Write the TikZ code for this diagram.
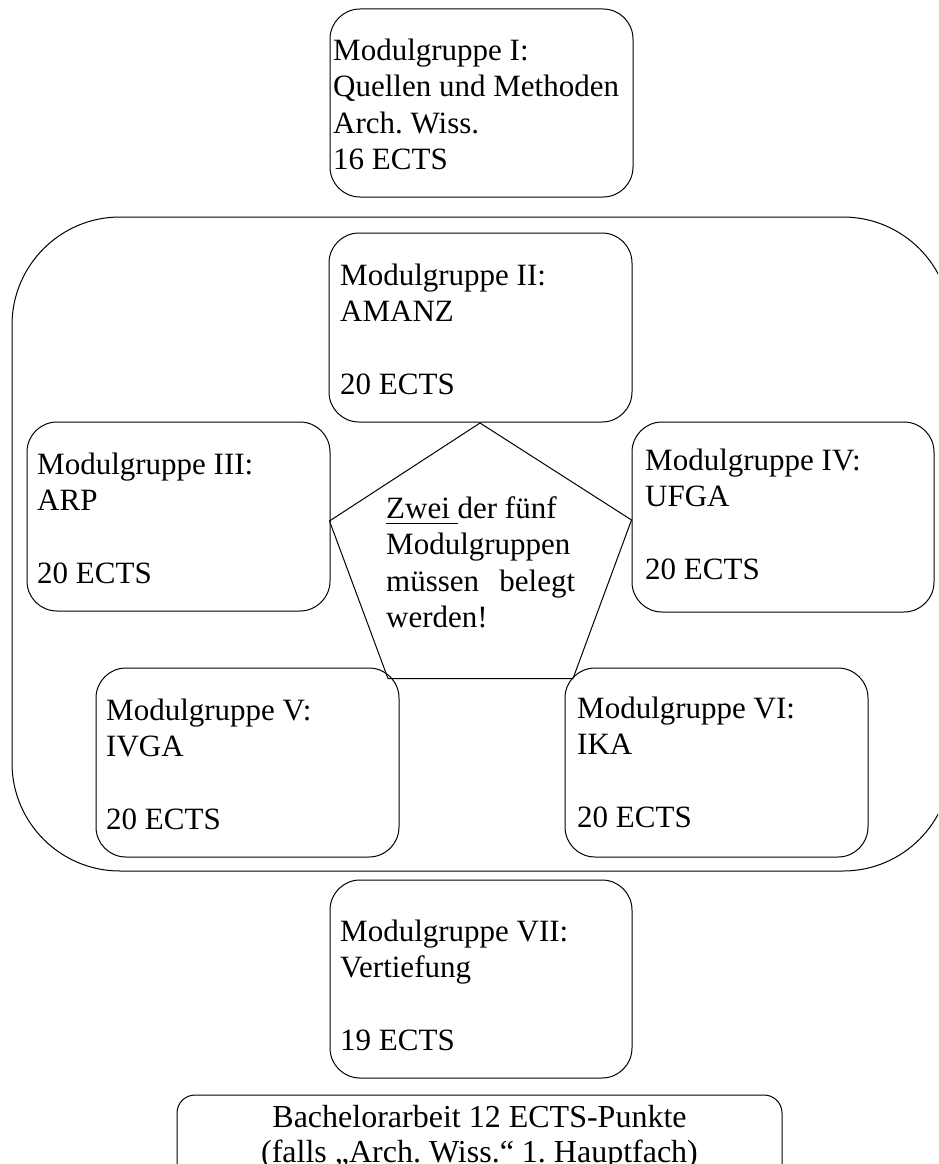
\documentclass[tikz,border=0pt]{standalone}
\usepackage{fontspec}
\setmainfont{Liberation Serif}
\frenchspacing
\newlength\ulwid
\newcommand\myul[1]{\leavevmode\settowidth{\ulwid}{#1}\rlap{\rule[-6pt]{\ulwid}{1.3pt}}#1}
\newcommand\mlines[1]{\begin{tabular}[t]{@{}l@{}}#1\end{tabular}}
\newcommand\clines[1]{\begin{tabular}[t]{@{}c@{}}#1\end{tabular}}
\tikzset{
  mbox/.style={draw, line width=1pt, rounded corners=30pt, inner sep=0pt},
  mtext/.style={anchor=base west, inner sep=0pt, font=\fontsize{31}{36.5}\selectfont},
  ctext/.style={anchor=base, inner sep=0pt, font=\fontsize{32}{35}\selectfont},
}
\begin{document}
\begin{tikzpicture}[x=1pt,y=-1pt]
\useasboundingbox (0,0) rectangle (938,1164);
\clip (0,0) rectangle (938,1164);
% group frame
\node[draw, line width=1pt, rounded corners=108pt, inner sep=0pt,
      minimum width=939, minimum height=654] (grp) at (481.5,544) {};
% pentagon
\coordinate (pa) at (480,423);
\coordinate (pb) at (631.5,520);
\coordinate (pc) at (573,678.5);
\coordinate (pd) at (388,678.5);
\coordinate (pe) at (329.5,521);
\draw[line width=1pt, line join=miter] (pa) -- (pb) -- (pc) -- (pd) -- (pe) -- cycle;
% boxes
\node[mbox, minimum width=303, minimum height=188] (m1) at (481.5,103) {};
\node[mbox, minimum width=303, minimum height=189] (m2) at (480.5,327.5) {};
\node[mbox, minimum width=303, minimum height=189] (m3) at (178.5,516.5) {};
\node[mbox, minimum width=302, minimum height=190] (m4) at (783,517) {};
\node[mbox, minimum width=303, minimum height=189] (m5) at (247.5,762.5) {};
\node[mbox, minimum width=303, minimum height=189] (m6) at (716.5,762.5) {};
\node[mbox, minimum width=302, minimum height=198] (m7) at (481,979) {};
\node[mbox, rounded corners=18pt, minimum width=605, minimum height=110] (ba) at (479.5,1150) {};
% texts
\node[mtext] (t1) at (333,60) {\mlines{Modulgruppe I:\\ Quellen und Methoden\\ Arch. Wiss.\\ 16 ECTS}};
\node[mtext] (t2) at (340,285) {\mlines{Modulgruppe II:\\ AMANZ\\ \\ 20 ECTS}};
\node[mtext] (t3) at (37,474) {\mlines{Modulgruppe III:\\ ARP\\ \\ 20 ECTS}};
\node[mtext] (t4) at (645,470) {\mlines{Modulgruppe IV:\\ UFGA\\ \\ 20 ECTS}};
\node[mtext] (t5) at (106,720) {\mlines{Modulgruppe V:\\ IVGA\\ \\ 20 ECTS}};
\node[mtext] (t6) at (577,718) {\mlines{Modulgruppe VI:\\ IKA\\ \\ 20 ECTS}};
\node[mtext] (t7) at (340,941) {\mlines{Modulgruppe VII:\\ Vertiefung\\ \\ 19 ECTS}};
\node[ctext] (tb) at (479.5,1127) {\clines{Bachelorarbeit 12 ECTS-Punkte\\ (falls „Arch. Wiss.“ 1. Hauptfach)}};
\node[mtext] (tp) at (386,518) {\parbox[t]{189pt}{\myul{Zwei\ }der fünf\\ Modulgruppen\\ müssen\hfill belegt\\ werden!}};
\end{tikzpicture}
\end{document}
